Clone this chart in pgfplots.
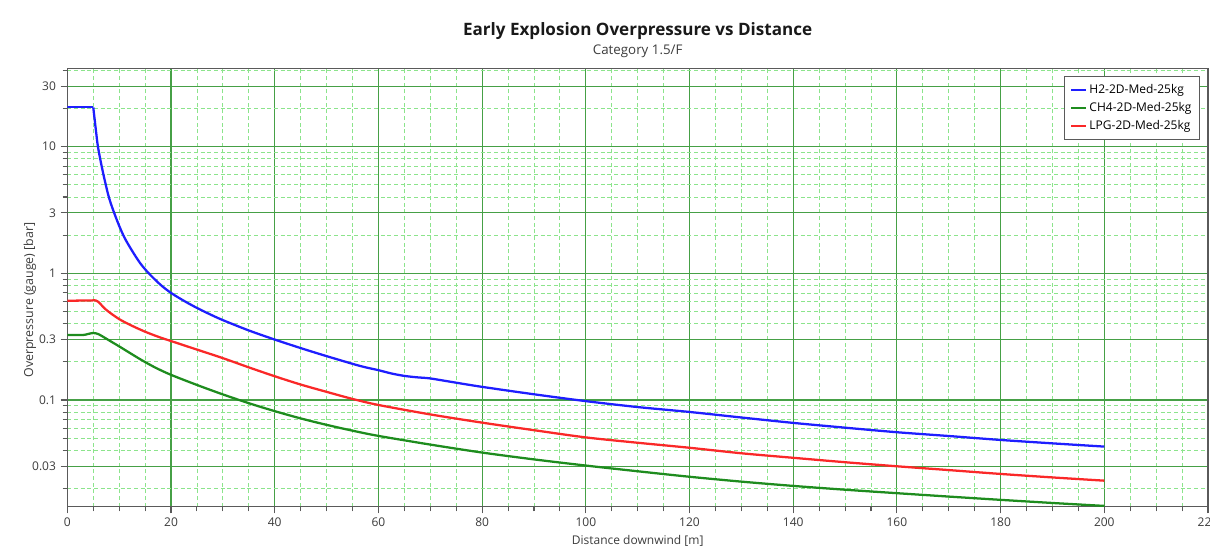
\documentclass[border=0pt]{standalone}
\usepackage{pgfplots}
\pgfplotsset{compat=1.18}
\usepackage{fontspec}
\setmainfont{Open Sans}
\definecolor{majgrid}{RGB}{70,160,70}
\definecolor{mingrid}{RGB}{140,228,140}
\definecolor{hblue}{RGB}{30,30,255}
\definecolor{cgreen}{RGB}{30,140,30}
\definecolor{lred}{RGB}{250,40,40}
\definecolor{axgray}{RGB}{90,90,90}
\definecolor{txt}{RGB}{60,60,60}
\begin{document}
\begin{tikzpicture}
\begin{axis}[
  scale only axis, width=855.5pt, height=328.8pt,
  ymode=log, xmin=0, xmax=220, ymin=0.0144, ymax=41.5,
  xtick={0,20,...,220}, minor x tick num=3,
  ytick={0.03,0.1,0.3,1,3,10,30}, yticklabels={0.03,0.1,0.3,1,3,10,30},
  minor ytick={0.02,0.04,0.05,0.06,0.07,0.08,0.09,0.2,0.4,0.5,0.6,0.7,0.8,0.9,2,4,5,6,7,8,9,20,40},
  grid=both,
  major grid style={majgrid, line width=0.8pt},
  minor grid style={mingrid, line width=0.6pt, dash pattern=on 3pt off 2pt},
  axis line style={axgray, line width=1pt},
  tick align=outside, xtick pos=bottom, ytick pos=left,
  major tick length=5pt, minor tick length=3.5pt,
  tick style={axgray, line width=0.8pt},
  ticklabel style={font=\fontsize{9}{10}\selectfont, text=txt},
  /pgf/number format/assume math mode=true,
  clip mode=individual,
  legend style={at={(0.993,0.9824)}, anchor=north east, draw=axgray, line width=0.8pt,
    fill=white, font=\fontsize{9}{10}\selectfont, text=black, row sep=1.2pt,
    inner xsep=4pt, inner ysep=4pt},
  legend cell align=left,
  legend image code/.code={\draw[#1] (0pt,0pt) -- (11pt,0pt);},
]
\addplot[hblue, line width=1.7pt, forget plot] coordinates {(0,20.4)(5,20.4)};
\addplot[hblue, line width=1.7pt, smooth, tension=0.5] coordinates {
(5,20.4)(5.3,16)(5.6,12.5)(5.9,10)(6.5,7.4)(7.2,5.45)(8,4.0)(8.9,3.1)(10,2.37)(11,1.92)(12.3,1.55)(14,1.21)(15.7,1.0)(18,0.81)(20,0.70)(22.5,0.606)(25,0.533)(27.5,0.475)(30,0.427)(35,0.354)(40,0.30)(45,0.257)(50,0.222)(56.4,0.186)(60,0.172)(62.5,0.162)(65,0.155)(67.5,0.151)(70,0.148)(75,0.137)(80,0.127)(90,0.111)(100,0.098)(110,0.088)(120,0.0805)(130,0.0728)(140,0.066)(150,0.0605)(160,0.0557)(170,0.052)(180,0.0484)(190,0.0455)(200,0.0429)};
\addlegendentry{H2-2D-Med-25kg}
\addplot[cgreen, line width=1.7pt, smooth, tension=0.5] coordinates {
(0,0.326)(3,0.326)(4,0.332)(5,0.338)(6,0.331)(7.5,0.305)(10,0.265)(12,0.236)(14.3,0.207)(17,0.18)(20,0.158)(25,0.1315)(30,0.1107)(35,0.0944)(40,0.0817)(45,0.0716)(50,0.0637)(55,0.0573)(60,0.0521)(70,0.0445)(80,0.0385)(90,0.034)(100,0.0304)(110,0.0274)(120,0.0248)(130,0.0227)(140,0.021)(150,0.0196)(160,0.0184)(170,0.0173)(180,0.0163)(190,0.0154)(200,0.0146)};
\addlegendentry{CH4-2D-Med-25kg}
\addplot[lred, line width=1.7pt, smooth, tension=0.5] coordinates {
(0,0.608)(4.5,0.61)(5,0.614)(5.5,0.61)(6,0.595)(7.5,0.515)(10,0.435)(12.5,0.385)(15,0.346)(17.5,0.316)(20,0.292)(25,0.25)(30,0.214)(35,0.181)(40,0.154)(45,0.1325)(50,0.116)(55,0.102)(60,0.0914)(70,0.077)(80,0.0663)(90,0.0578)(100,0.0507)(110,0.046)(120,0.042)(130,0.038)(140,0.035)(150,0.0323)(160,0.030)(170,0.028)(180,0.0261)(190,0.0245)(200,0.0231)};
\addlegendentry{LPG-2D-Med-25kg}
\coordinate (SW) at (rel axis cs:0,0);
\coordinate (NE) at (rel axis cs:1,1);
\end{axis}
\node[font=\bfseries\fontsize{12.8}{15}\selectfont, text=black!90] at ([shift={(427.75pt,28pt)}]SW |- NE) {Early Explosion Overpressure vs Distance};
\node[font=\fontsize{10}{12}\selectfont, text=txt] at ([shift={(427.75pt,13pt)}]SW |- NE) {Category 1.5/F};
\node[font=\fontsize{9}{10}\selectfont, text=txt] at ([shift={(427.75pt,-26pt)}]SW) {Distance downwind [m]};
\node[font=\fontsize{9.3}{10}\selectfont, text=txt, rotate=90] at ([shift={(-28pt,155pt)}]SW) {Overpressure (gauge) [bar]};
\pgfresetboundingbox
\useasboundingbox ([shift={(-50.5pt,-33.2pt)}]SW) rectangle ([shift={(1.5pt,51.2pt)}]NE);
\end{tikzpicture}
\end{document}
